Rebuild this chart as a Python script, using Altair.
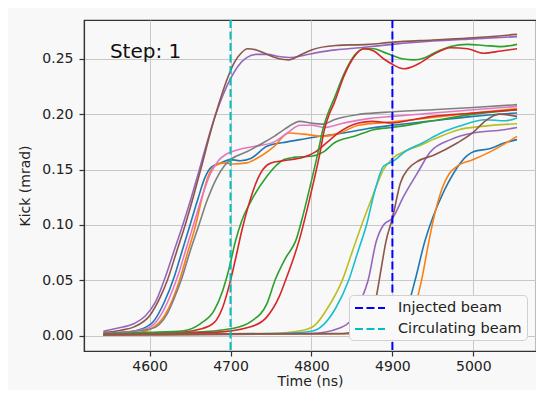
import altair as alt
import pandas as pd

# ---- kick curves (time in ns, kick in mrad) ----
t_blue_a = [4543, 4570, 4590, 4605, 4618, 4630, 4640, 4650, 4660, 4668, 4676, 4688, 4700, 4712, 4725, 4745, 4770, 4786, 4810, 4840, 4870, 4900, 4950, 5000, 5054]
k_blue_a = [0.002, 0.003, 0.006, 0.013, 0.030, 0.052, 0.076, 0.100, 0.124, 0.142, 0.152, 0.156, 0.159, 0.158, 0.160, 0.171, 0.175, 0.177, 0.180, 0.183, 0.187, 0.190, 0.194, 0.198, 0.201]

t_orange_a = [4543, 4580, 4601, 4620, 4628, 4637, 4647, 4657, 4665, 4672, 4680, 4692, 4704, 4720, 4737, 4754, 4772, 4790, 4815, 4835, 4858, 4900, 4950, 5000, 5054]
k_orange_a = [0.001, 0.002, 0.006, 0.020, 0.032, 0.050, 0.075, 0.100, 0.125, 0.143, 0.153, 0.156, 0.155, 0.156, 0.162, 0.171, 0.183, 0.182, 0.180, 0.183, 0.190, 0.193, 0.197, 0.201, 0.205]

t_green_b = [4543, 4600, 4642, 4663, 4680, 4690, 4698, 4706, 4714, 4725, 4745, 4766, 4778, 4800, 4815, 4828, 4853, 4877, 4900, 4950, 5000, 5054]
k_green_b = [0.002, 0.003, 0.0045, 0.011, 0.023, 0.040, 0.060, 0.085, 0.104, 0.121, 0.144, 0.159, 0.161, 0.162, 0.166, 0.174, 0.180, 0.186, 0.188, 0.194, 0.200, 0.204]

t_red_b = [4543, 4620, 4663, 4680, 4690, 4700, 4707, 4714, 4722, 4731, 4740, 4750, 4765, 4790, 4805, 4820, 4833, 4858, 4875, 4900, 4925, 4950, 5000, 5054]
k_red_b = [0.001, 0.002, 0.006, 0.012, 0.025, 0.050, 0.072, 0.095, 0.117, 0.137, 0.150, 0.156, 0.158, 0.161, 0.166, 0.175, 0.183, 0.192, 0.1935, 0.192, 0.195, 0.198, 0.201, 0.204]

t_purple_a = [4543, 4560, 4581, 4595, 4607, 4618, 4630, 4641, 4650, 4660, 4670, 4680, 4690, 4700, 4710, 4720, 4732, 4745, 4760, 4775, 4790, 4810, 4830, 4860, 4900, 4950, 5000, 5054]
k_purple_a = [0.004, 0.0067, 0.011, 0.018, 0.030, 0.050, 0.076, 0.100, 0.121, 0.146, 0.172, 0.196, 0.216, 0.232, 0.244, 0.251, 0.254, 0.254, 0.252, 0.251, 0.253, 0.256, 0.258, 0.260, 0.263, 0.266, 0.268, 0.270]

t_brown_a = [4543, 4565, 4581, 4601, 4612, 4622, 4633, 4644, 4655, 4665, 4675, 4685, 4695, 4705, 4713, 4721, 4732, 4745, 4760, 4772, 4785, 4800, 4830, 4870, 4900, 4950, 5000, 5054]
k_brown_a = [0.003, 0.005, 0.008, 0.019, 0.033, 0.050, 0.075, 0.100, 0.128, 0.155, 0.183, 0.208, 0.230, 0.247, 0.255, 0.259, 0.258, 0.254, 0.250, 0.249, 0.253, 0.258, 0.262, 0.263, 0.265, 0.267, 0.269, 0.272]

t_pink_a = [4543, 4580, 4601, 4615, 4625, 4634, 4645, 4655, 4665, 4675, 4685, 4695, 4705, 4715, 4730, 4754, 4770, 4786, 4800, 4815, 4840, 4870, 4900, 4950, 5000, 5054]
k_pink_a = [0.002, 0.004, 0.008, 0.020, 0.035, 0.052, 0.078, 0.102, 0.126, 0.146, 0.158, 0.164, 0.167, 0.169, 0.171, 0.175, 0.183, 0.190, 0.190, 0.188, 0.192, 0.196, 0.198, 0.201, 0.204, 0.207]

t_gray_a = [4543, 4601, 4622, 4630, 4639, 4650, 4661, 4671, 4682, 4692, 4700, 4720, 4740, 4754, 4766, 4786, 4799, 4815, 4828, 4856, 4889, 4950, 5000, 5054]
k_gray_a = [0.002, 0.006, 0.020, 0.033, 0.050, 0.076, 0.100, 0.122, 0.141, 0.153, 0.159, 0.166, 0.174, 0.180, 0.186, 0.1935, 0.192, 0.191, 0.195, 0.1995, 0.2016, 0.204, 0.206, 0.2086]

t_olive_c = [4543, 4750, 4790, 4805, 4820, 4838, 4850, 4862, 4875, 4889, 4900, 4917, 4935, 4950, 4982, 5010, 5054]
k_olive_c = [0.001, 0.002, 0.005, 0.010, 0.025, 0.050, 0.075, 0.100, 0.125, 0.150, 0.160, 0.167, 0.172, 0.177, 0.186, 0.189, 0.1914]

t_cyan_c = [4543, 4760, 4800, 4815, 4830, 4846, 4857, 4868, 4878, 4889, 4900, 4917, 4937, 4960, 4982, 5015, 5039, 5054]
k_cyan_c = [0.001, 0.002, 0.004, 0.010, 0.025, 0.050, 0.075, 0.100, 0.130, 0.153, 0.157, 0.167, 0.174, 0.183, 0.189, 0.195, 0.194, 0.1966]

t_blue_e = [4543, 4880, 4900, 4910, 4918, 4928, 4940, 4950, 4964, 4975, 4984, 5000, 5021, 5038, 5054]
k_blue_e = [0.0005, 0.002, 0.005, 0.011, 0.024, 0.050, 0.085, 0.107, 0.131, 0.146, 0.156, 0.166, 0.169, 0.174, 0.177]

t_orange_e = [4543, 4890, 4910, 4920, 4928, 4936, 4945, 4953, 4962, 4970, 4980, 5000, 5026, 5054]
k_orange_e = [0.0005, 0.002, 0.006, 0.014, 0.027, 0.050, 0.085, 0.112, 0.134, 0.146, 0.153, 0.159, 0.168, 0.180]

t_green_u = [4543, 4650, 4704, 4725, 4745, 4755, 4768, 4781, 4790, 4800, 4808, 4814, 4820, 4828, 4840, 4853, 4865, 4877, 4889, 4900, 4912, 4926, 4940, 4951, 4972, 4993, 5013, 5034, 5054]
k_green_u = [0.002, 0.003, 0.0067, 0.0127, 0.029, 0.050, 0.070, 0.0865, 0.110, 0.140, 0.165, 0.186, 0.200, 0.214, 0.236, 0.253, 0.259, 0.259, 0.256, 0.253, 0.250, 0.249, 0.251, 0.255, 0.261, 0.263, 0.262, 0.261, 0.263]

t_red_u = [4543, 4680, 4725, 4745, 4760, 4768, 4776, 4785, 4795, 4803, 4810, 4816, 4822, 4828, 4840, 4853, 4865, 4877, 4889, 4900, 4914, 4931, 4951, 4972, 4993, 5013, 5034, 5054]
k_red_u = [0.001, 0.003, 0.008, 0.017, 0.035, 0.050, 0.066, 0.0865, 0.115, 0.140, 0.163, 0.186, 0.200, 0.210, 0.234, 0.252, 0.259, 0.257, 0.250, 0.245, 0.241, 0.245, 0.254, 0.260, 0.259, 0.255, 0.257, 0.259]

t_purple_d = [4543, 4800, 4835, 4850, 4860, 4870, 4880, 4889, 4900, 4914, 4931, 4947, 4972, 4999, 5038, 5054]
k_purple_d = [0.001, 0.002, 0.007, 0.015, 0.030, 0.050, 0.085, 0.100, 0.106, 0.126, 0.147, 0.166, 0.177, 0.183, 0.186, 0.188]

t_brown_d = [4543, 4840, 4860, 4872, 4880, 4886, 4892, 4900, 4910, 4920, 4930, 4951, 4980, 4999, 5015, 5032, 5054]
k_brown_d = [0.001, 0.002, 0.007, 0.016, 0.035, 0.060, 0.085, 0.106, 0.138, 0.151, 0.157, 0.163, 0.174, 0.183, 0.194, 0.200, 0.198]

series_names = ["s01", "s02", "s03", "s04", "s05", "s06", "s07", "s08",
                "s09", "s10", "s11", "s12", "s13", "s14", "s15", "s16"]
series_data = [(t_blue_a, k_blue_a), (t_orange_a, k_orange_a), (t_green_b, k_green_b),
               (t_red_b, k_red_b), (t_purple_a, k_purple_a), (t_brown_a, k_brown_a),
               (t_pink_a, k_pink_a), (t_gray_a, k_gray_a), (t_olive_c, k_olive_c),
               (t_cyan_c, k_cyan_c), (t_blue_e, k_blue_e), (t_orange_e, k_orange_e),
               (t_green_u, k_green_u), (t_red_u, k_red_u), (t_purple_d, k_purple_d),
               (t_brown_d, k_brown_d)]
palette = ["#1f77b4", "#ff7f0e", "#2ca02c", "#d62728", "#9467bd", "#8c564b",
           "#e377c2", "#7f7f7f", "#bcbd22", "#17becf", "#1f77b4", "#ff7f0e",
           "#2ca02c", "#d62728", "#9467bd", "#8c564b"]

beam_names = ["Injected beam", "Circulating beam"]
beam_times = [4900, 4700]
beam_colors = ["#0000ff", "#00bfbf"]

x_ticks = [4600, 4700, 4800, 4900, 5000]
y_ticks = [0.0, 0.05, 0.10, 0.15, 0.20, 0.25]
step_label = "Step: 1"

rows = []
for name, (ts, ks) in zip(series_names, series_data):
    for t, k in zip(ts, ks):
        rows.append({"series": name, "t": t, "k": k})
df = pd.DataFrame(rows)
df_beam = pd.DataFrame({"beam": beam_names, "t": beam_times})
df_text = pd.DataFrame({"label": [step_label], "t": [4551], "k": [0.2505]})

FONT = "DejaVu Sans"
x_scale = alt.Scale(domain=[4519, 5077.4], nice=False, zero=False)
y_scale = alt.Scale(domain=[-0.0138, 0.285], nice=False, zero=False)

x_enc = alt.X("t:Q", scale=x_scale,
              axis=alt.Axis(values=x_ticks, title="Time (ns)", format="d"))
y_enc = alt.Y("k:Q", scale=y_scale,
              axis=alt.Axis(values=y_ticks, title="Kick (mrad)", format=".2f"))

lines = alt.Chart(df).mark_line(strokeWidth=1.6, interpolate="monotone", clip=True).encode(
    x=x_enc,
    y=y_enc,
    color=alt.Color("series:N", scale=alt.Scale(domain=series_names, range=palette), legend=None),
    detail="series:N",
)

rules = alt.Chart(df_beam).mark_rule(strokeDash=[8, 3.5], strokeWidth=2).encode(
    x=alt.X("t:Q", scale=x_scale),
    color=alt.Color("beam:N",
                    scale=alt.Scale(domain=beam_names, range=beam_colors),
                    legend=alt.Legend(
                        title=None, orient="none", legendX=265, legendY=275,
                        symbolType="M-2,0L2,0", symbolSize=225, symbolStrokeWidth=2,
                        symbolDash=[8, 3.5], symbolOffset=8,
                        labelFontSize=14.5, labelFont=FONT,
                        labelColor="#222222", fillColor="#f9f9f9", strokeColor="#d0d0d0",
                        cornerRadius=4, padding=4.5, rowPadding=6, labelOffset=19.5,
                    )),
)

text = alt.Chart(df_text).mark_text(align="left", baseline="alphabetic", fontSize=20,
                                    font=FONT, color="#111111").encode(
    x=alt.X("t:Q", scale=x_scale), y=alt.Y("k:Q", scale=y_scale), text="label:N")

chart = alt.layer(lines, rules, text).resolve_scale(color="independent").properties(
    width=452, height=331,
    padding={"left": 76, "top": 12, "right": 0, "bottom": 39},
    autosize=alt.AutoSizeParams(type="none"),
    background="#f8f8f8",
).configure_view(stroke="#333333", strokeWidth=1.2).configure_axis(
    labelFont=FONT, labelFontSize=14, labelColor="#222222",
    titleFont=FONT, titleFontSize=14, titleFontWeight="normal", titleColor="#222222",
    tickColor="#333333", domainColor="#333333", domainWidth=1.2, tickWidth=1.2, tickSize=5,
    gridColor="#c8c8c8", gridWidth=1, labelPadding=3,
).configure_axisX(titlePadding=1).configure_axisY(labelPadding=6, titlePadding=9)

chart.save("out.html", embed_options={"renderer": "svg", "actions": False})
